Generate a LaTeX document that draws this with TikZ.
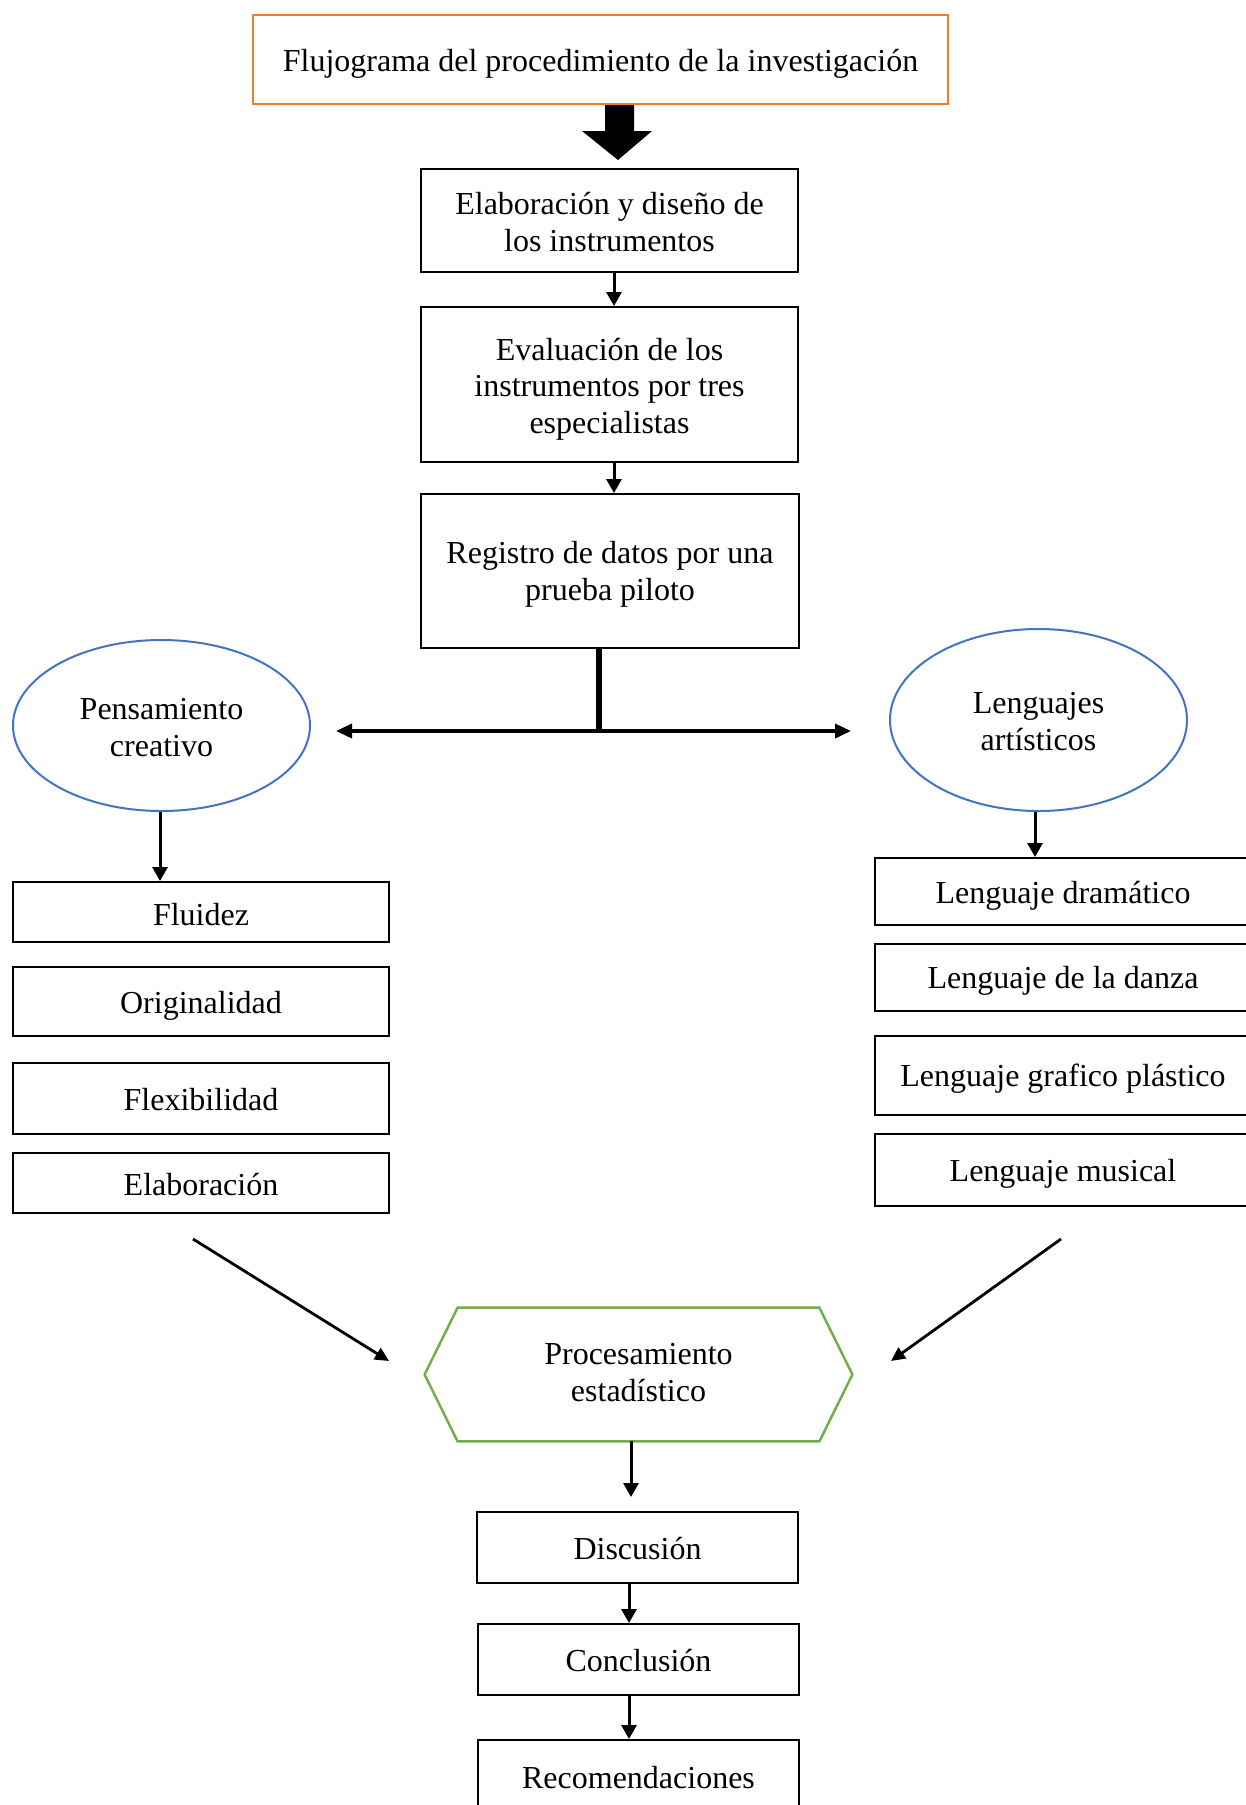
\documentclass[tikz,border=0pt]{standalone}
\usepackage{fontspec}
\setmainfont{Liberation Serif}
\usetikzlibrary{arrows.meta,shapes.geometric}
\definecolor{orangeb}{HTML}{ED7D31}
\definecolor{blueb}{HTML}{4472C4}
\definecolor{greenb}{HTML}{70AD47}
\begin{document}
\begin{tikzpicture}[x=0.5pt,y=-0.5pt,
  every node/.style={font=\fontsize{16}{18.4}\selectfont, align=center, inner sep=0pt},
  txt/.style 2 args={label={[align=center,yshift=#1]center:#2}},
  box/.style={draw=black, line width=1pt, minimum width=#1*0.5pt},
  box/.default=377,
  oval/.style={draw=blueb, line width=1pt, ellipse, minimum width=148.5pt},
  link/.style={line width=1.5pt, -{Triangle[length=7pt,width=7.5pt]}},
  diag/.style={line width=1.4pt, -{Triangle[length=7pt,width=6.5pt]}}
]
\useasboundingbox (0,0) rectangle (1246,1805);
\clip (0,0) rectangle (1246,1805);

% title
\node[draw=orangeb, line width=1pt, minimum width=347.5pt, minimum height=44.5pt,
  txt={-2.3pt}{Flujograma del procedimiento de la investigación}] (title) at (600.5,59.5) {};

% main column
\node[box, minimum height=51.5pt, txt={-0.6pt}{Elaboración y diseño de\\los instrumentos}] (b1) at (609.5,220.5) {};
\node[box, minimum height=77.5pt, txt={-2.3pt}{Evaluación de los\\instrumentos por tres\\especialistas}] (b2) at (609.5,384.5) {};
\node[box=378, minimum height=77pt, txt={-1.7pt}{Registro de datos por una\\prueba piloto}] (b3) at (610,571) {};

% block arrow
\coordinate (ba) at (618,0);
\fill[black] ([xshift=-6.5pt]title.south -| ba) -- ([xshift=8pt]title.south -| ba)
  -- ([xshift=8pt,yshift=-13pt]title.south -| ba) -- ([xshift=17pt,yshift=-13pt]title.south -| ba)
  -- ([yshift=-27.5pt]title.south -| ba) -- ([xshift=-18pt,yshift=-13pt]title.south -| ba)
  -- ([xshift=-6.5pt,yshift=-13pt]title.south -| ba) -- cycle;

\coordinate (cx) at (614,0);
\draw[link] (b1.south -| cx) -- (b2.north -| cx);
\draw[link] (b2.south -| cx) -- (b3.north -| cx);

% branch
\coordinate (j) at (599,731);
\coordinate (bl) at (336,731);
\coordinate (br) at (851,731);
\draw[line width=3.3pt] (b3.south -| j) -- (j);
\draw[line width=1.8pt, {Triangle[length=8pt,width=7pt]}-{Triangle[length=8pt,width=7pt]}] (bl) -- (br);

% ellipses
\node[oval, minimum height=85.5pt, txt={-1.2pt}{Pensamiento\\creativo}] (eL) at (161.5,725.5) {};
\node[oval, minimum height=91pt, txt={-0.6pt}{Lenguajes\\artísticos}] (eR) at (1038.5,720) {};

% left column
\node[box=376, minimum height=30pt, txt={-1.2pt}{Fluidez}] (f1) at (201,912) {};
\node[box=376, minimum height=34.5pt, txt={-2.3pt}{Originalidad}] (f2) at (201,1001.5) {};
\node[box=376, minimum height=35.5pt, txt={-0.6pt}{Flexibilidad}] (f3) at (201,1098.5) {};
\node[box=376, minimum height=30pt, txt={-0.6pt}{Elaboración}] (f4) at (201,1183) {};

% right column
\node[box=376, minimum height=33.5pt, txt={-2.3pt}{Lenguaje dramático}] (r1) at (1063,891.5) {};
\node[box=376, minimum height=33.5pt, txt={-1.7pt}{Lenguaje de la danza}] (r2) at (1063,977.5) {};
\node[box=376, minimum height=39.5pt, txt={-1.7pt}{Lenguaje grafico plástico}] (r3) at (1063,1075.5) {};
\node[box=376, minimum height=36pt, txt={-1.7pt}{Lenguaje musical}] (r4) at (1063,1170) {};

\coordinate (lx) at (160,0);
\coordinate (rx) at (1035,0);
\draw[link] (eL.south -| lx) -- (f1.north -| lx);
\draw[link] (eR.south -| rx) -- (r1.north -| rx);

% hexagon
\node[minimum width=213.5pt, minimum height=66.5pt, txt={1.1pt}{Procesamiento\\estadístico}] (hex) at (638.5,1374.5) {};
\draw[greenb, line width=1.2pt, line join=miter] (hex.west) -- ([xshift=16.5pt]hex.north west) -- ([xshift=-16.5pt]hex.north east)
  -- (hex.east) -- ([xshift=-16.5pt]hex.south east) -- ([xshift=16.5pt]hex.south west) -- cycle;

% diagonal arrows
\coordinate (dl1) at (193,1239);
\coordinate (dl2) at (389,1361);
\coordinate (dr1) at (1061,1239);
\coordinate (dr2) at (891,1361);
\draw[diag] (dl1) -- (dl2);
\draw[diag] (dr1) -- (dr2);

% bottom column
\node[box=321, minimum height=35.5pt, txt={-0.6pt}{Discusión}] (d1) at (637.5,1547.5) {};
\node[box=321, minimum height=35.5pt, txt={-0.6pt}{Conclusión}] (d2) at (638.5,1659.5) {};
\node[box=321, minimum height=38pt, txt={0pt}{Recomendaciones}] (d3) at (638.5,1778) {};

\coordinate (hx) at (631,0);
\coordinate (hend) at (631,1497);
\draw[link] (hex.south -| hx) -- (hend);
\coordinate (bx) at (629,0);
\draw[link] (d1.south -| bx) -- (d2.north -| bx);
\draw[link] (d2.south -| bx) -- (d3.north -| bx);
\end{tikzpicture}
\end{document}
